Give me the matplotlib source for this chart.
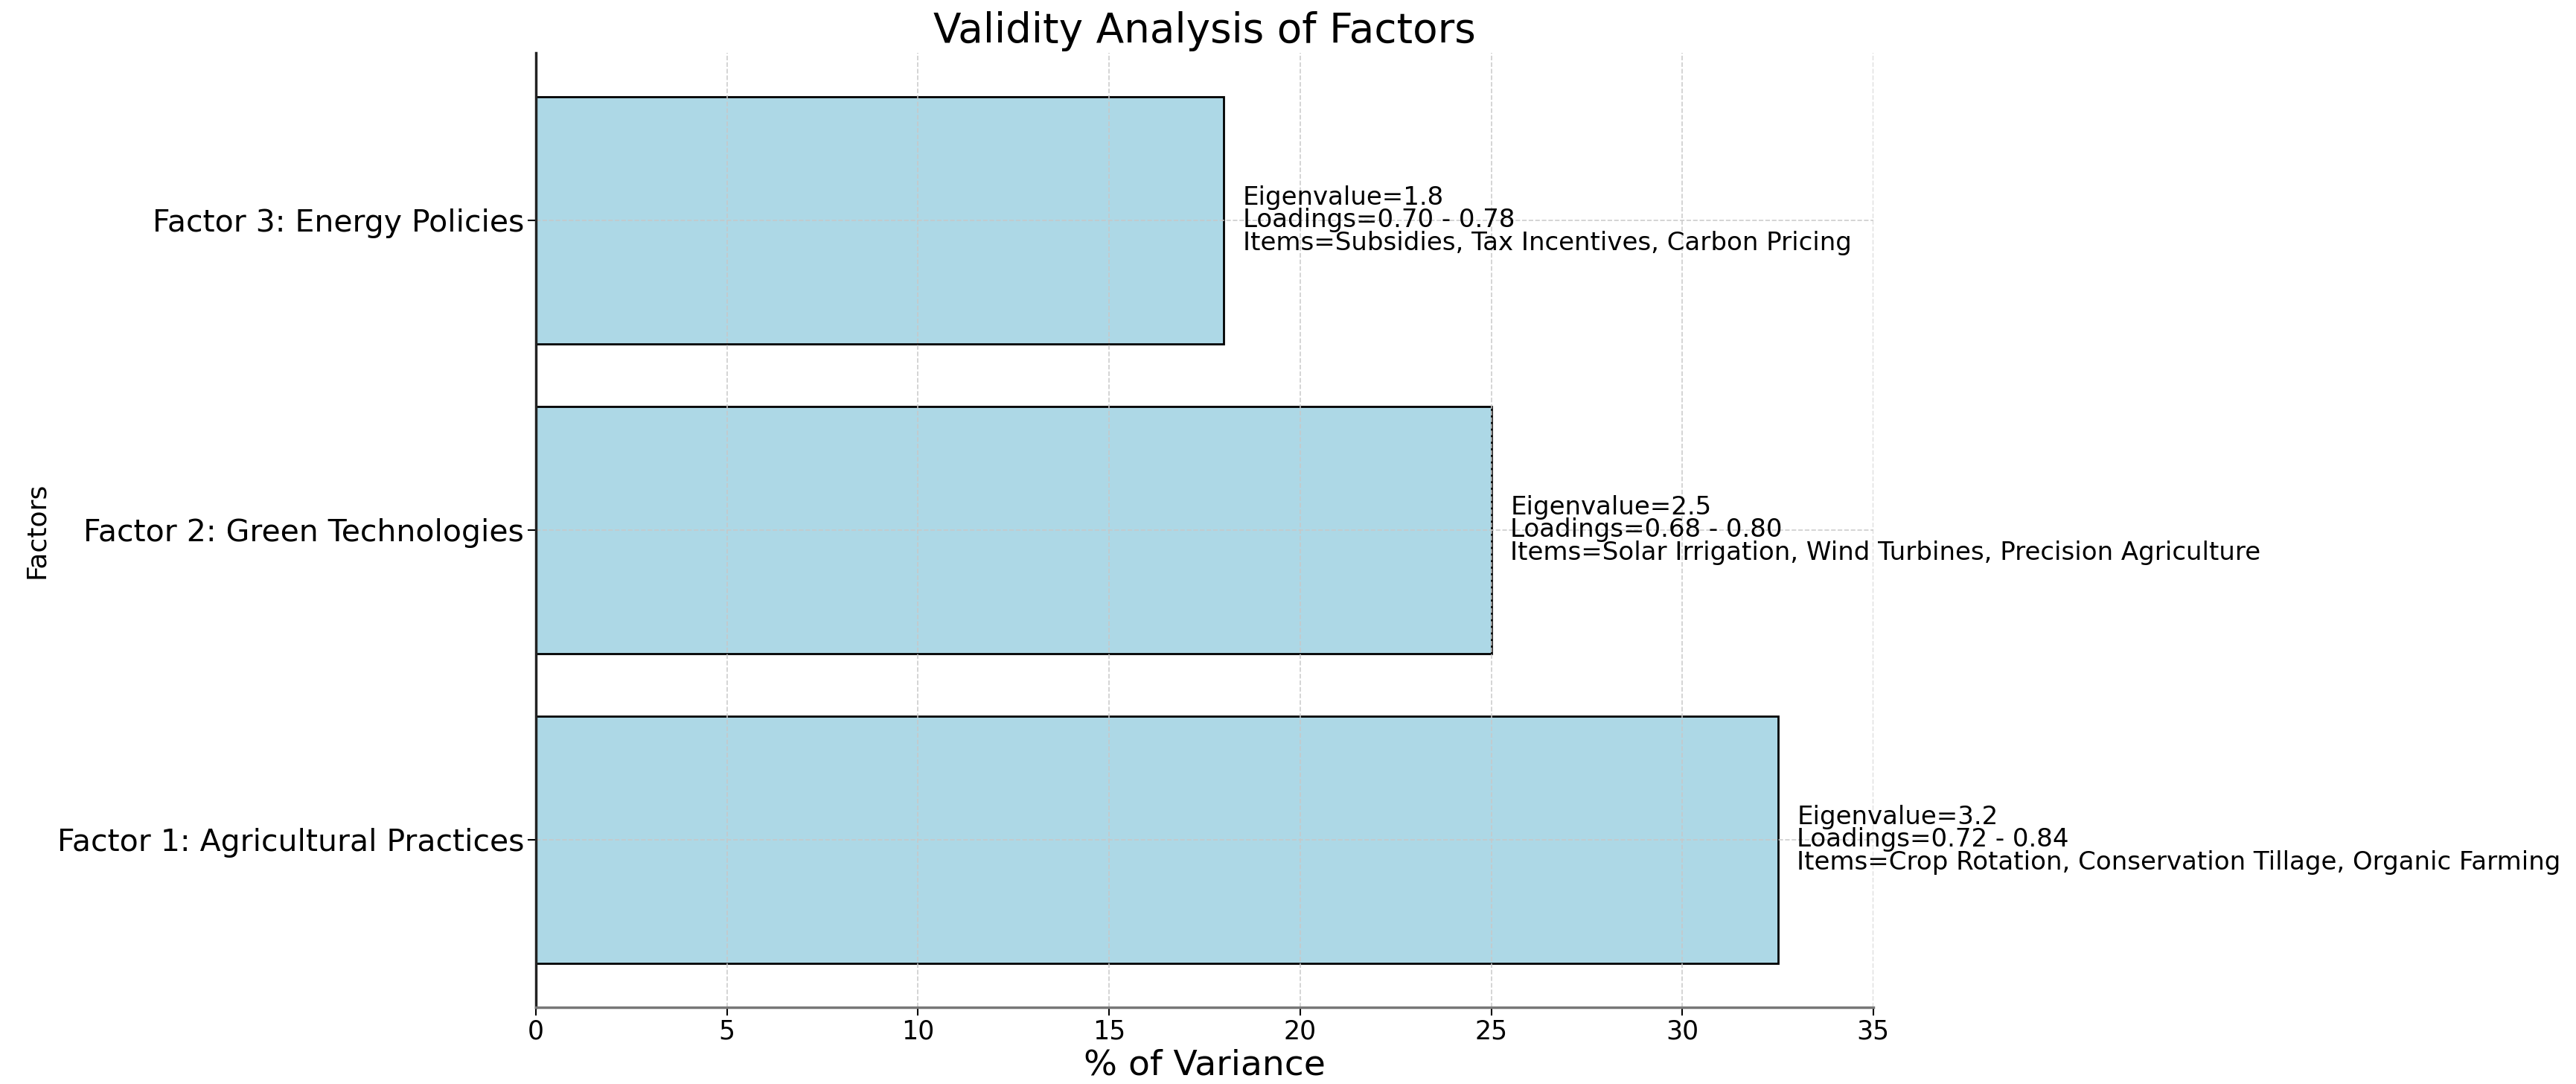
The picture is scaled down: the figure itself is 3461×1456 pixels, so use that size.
import matplotlib
matplotlib.use("Agg")
import matplotlib.pyplot as plt

# factor data
factors = ["Factor 1: Agricultural Practices", "Factor 2: Green Technologies", "Factor 3: Energy Policies"]
variance = [32.5, 25.0, 18.0]
eigenvalues = [3.2, 2.5, 1.8]
loadings = ["0.72 - 0.84", "0.68 - 0.80", "0.70 - 0.78"]
items = [
    "Crop Rotation, Conservation Tillage, Organic Farming",
    "Solar Irrigation, Wind Turbines, Precision Agriculture",
    "Subsidies, Tax Incentives, Carbon Pricing",
]
xticks = [0, 5, 10, 15, 20, 25, 30, 35]

plt.rcParams["font.family"] = ["DejaVu Sans"]

fig = plt.figure(figsize=(34.62, 14.56), dpi=100)
ax = fig.add_axes([0.208, 0.071, 0.519, 0.880])

ax.barh(factors, variance, height=0.8, color="lightblue", edgecolor="black", linewidth=2)

for i, v in enumerate(variance):
    label = f"Eigenvalue={eigenvalues[i]}\nLoadings={loadings[i]}\nItems={items[i]}"
    ax.text(v + 0.5, i, label, va="center", ha="left", fontsize=24.5, linespacing=0.92, color="black")

ax.set_xlim(0, 35)
ax.set_xticks(xticks)
ax.grid(True, linestyle="--", color="#c8c8c8", linewidth=1.2, alpha=0.9)
ax.spines["top"].set_visible(False)
ax.spines["right"].set_visible(False)
ax.spines["left"].set_linewidth(2.5)
ax.spines["left"].set_color("#222222")
ax.spines["bottom"].set_linewidth(2.5)
ax.spines["bottom"].set_color("#777777")

ax.tick_params(axis="x", labelsize=25, length=8, width=1.5)
ax.tick_params(axis="y", labelsize=29.5, length=8, width=1.5)
ax.set_xlabel("% of Variance", fontsize=34, labelpad=4)
ax.set_ylabel("Factors", fontsize=26, labelpad=8)
ax.set_title("Validity Analysis of Factors", fontsize=39.5, pad=10)

fig.savefig("out.png", dpi=100)
